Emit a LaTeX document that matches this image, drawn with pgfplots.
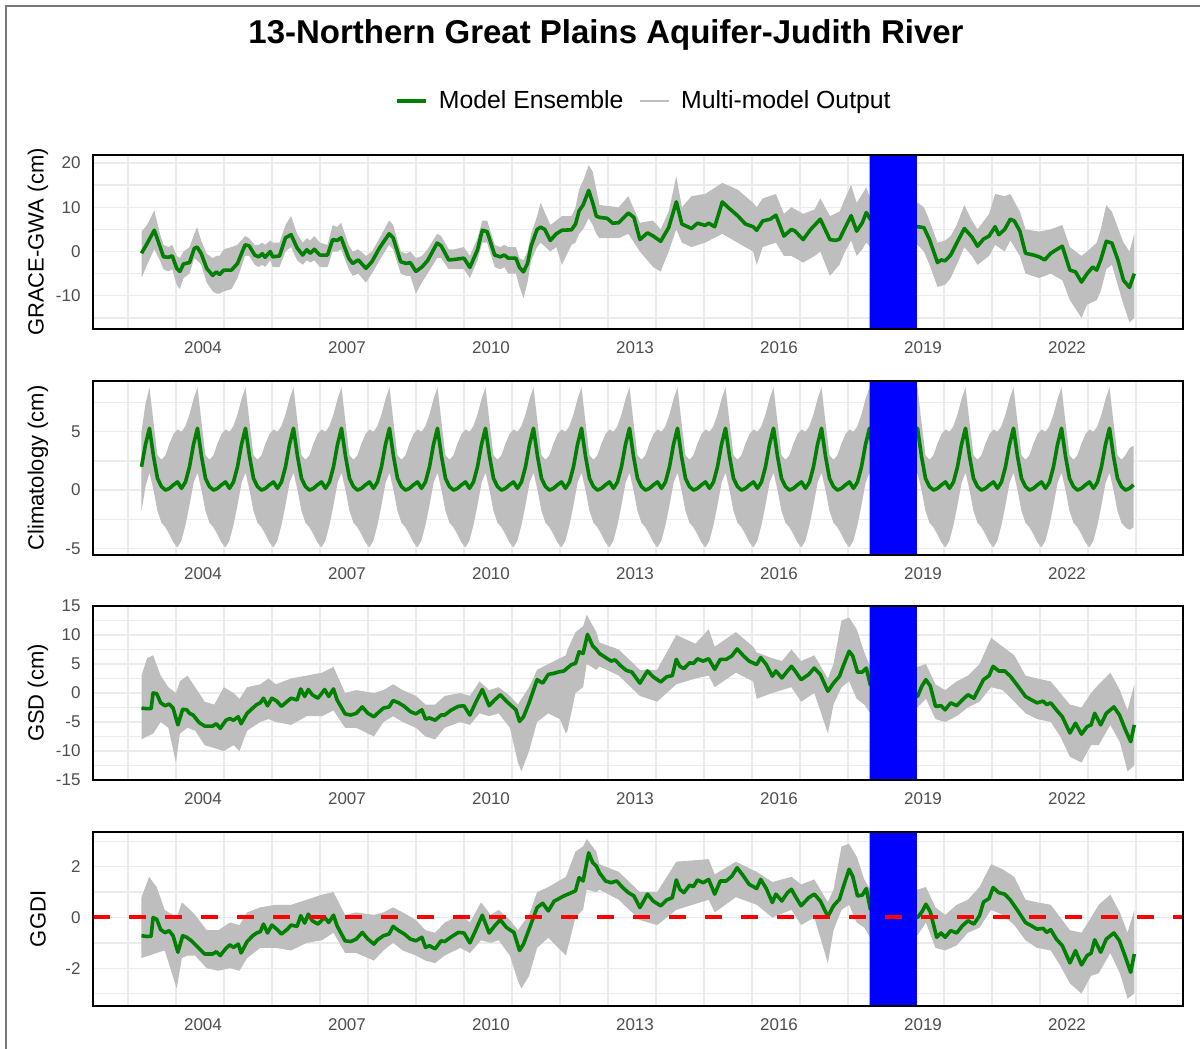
\documentclass[border=0pt]{standalone}
\usepackage{pgfplots}
\pgfplotsset{compat=1.18}
\usepackage{pgfplotstable}
\usepackage{fontspec}
\setmainfont{Liberation Sans}
\definecolor{ens}{RGB}{0,128,0}
\definecolor{mm}{RGB}{190,190,190}
\definecolor{gridc}{RGB}{235,235,235}
\definecolor{tickc}{RGB}{77,77,77}
\definecolor{frm}{RGB}{120,120,120}

% ---------- Panel 1: GRACE-GWA ----------
\pgfplotstableread{
M v
0 -0.4
1.4 1.8
3.2 4.8
4.6 1.2
5.5 -1.2
6.7 -1.3
7.7 -1.0
8.8 -3.8
9.6 -4.5
10.5 -2.8
12.0 -2.5
13.2 0.7
13.9 1.0
14.9 -0.4
16.3 -3.8
17.8 -5.4
18.7 -4.6
19.5 -5.2
20.6 -4.2
22.5 -4.2
24.0 -2.7
25.9 1.5
26.9 1.3
28.3 -0.8
29.3 -1.2
30.2 -0.5
30.9 -1.3
32.2 0.0
32.8 -1.2
34.5 -1.0
36.0 3.1
37.4 3.8
38.9 0.8
40.3 -0.8
41.3 0.4
42.2 -0.4
43.2 0.5
44.6 -0.8
46.5 -0.8
47.8 2.7
48.9 2.5
49.9 3.1
51.8 -1.5
52.8 -2.7
54.2 -1.9
56.1 -3.8
57.6 -2.3
59.5 0.8
61.9 4.0
62.9 3.1
64.8 -2.3
66.2 -2.7
67.2 -2.5
68.6 -4.5
70.1 -3.5
71.5 -2.1
73.9 1.9
74.9 1.3
76.8 -1.9
78.2 -1.8
80.6 -1.5
82.1 -3.6
84.0 0.4
85.2 4.8
86.4 4.5
88.3 -0.8
89.7 -1.2
90.7 -0.8
91.7 -1.5
93.6 -1.5
94.5 -3.6
95.5 -4.6
96.5 -2.7
97.4 1.2
98.9 5.0
99.8 5.5
100.8 5.0
102.2 2.5
103.7 4.0
105.1 4.8
107.5 4.9
108.5 6.2
109.4 9.2
110.4 10.5
111.8 13.8
112.8 11.0
113.7 8.0
114.5 7.7
116.4 7.5
117.8 6.4
119.3 6.5
121.7 8.7
123.1 7.7
124.6 2.7
126.5 4.2
127.9 3.5
129.8 2.3
131.8 5.4
133.7 11.2
135.1 6.2
137.5 5.2
139.0 6.4
140.9 5.9
141.8 6.4
143.3 5.6
145.2 11.2
146.6 10.0
149.0 8.1
151.0 6.2
152.9 5.6
153.8 4.8
155.3 6.9
157.2 7.3
158.6 8.2
160.6 3.5
162.5 5.0
163.4 4.6
165.4 2.7
167.3 5.0
169.7 7.3
172.1 2.7
173.5 2.5
174.5 2.8
175.9 5.4
177.4 8.1
178.8 4.6
180.2 6.5
181.2 8.8
182.2 7.3
194.0 5.6
195.6 5.4
197.0 2.7
199.0 -2.5
199.9 -1.9
200.9 -2.1
202.3 -0.8
203.8 1.9
205.7 5.2
207.6 3.3
209.0 1.2
210.5 2.8
211.9 3.5
213.4 5.6
214.3 3.8
215.8 5.0
217.2 7.3
218.2 6.9
219.6 4.6
221.0 -0.4
223.0 -0.8
224.4 -1.2
225.8 -1.9
227.3 -0.4
228.7 0.4
230.2 1.2
232.1 -4.2
233.5 -4.6
235.0 -6.9
236.4 -5.0
237.8 -3.5
238.8 -4.2
239.8 -1.9
241.2 2.3
242.6 1.9
244.1 -1.9
245.5 -6.5
247.0 -8.1
248.2 -5.0
}\gwaG

\pgfplotstableread{
M lo hi
0 -6.0 4.5
1.4 -3.0 6.0
3.2 0.5 9.3
4.6 -2.0 4.0
5.5 -4.0 1.5
6.7 -4.5 1.0
7.7 -4.0 1.5
8.8 -7.5 -1.0
9.6 -8.5 -1.5
10.5 -6.0 0.0
12.0 -5.0 1.0
13.2 -1.5 4.0
13.9 -2.0 5.5
14.9 -3.0 2.5
16.3 -7.0 -0.5
17.8 -9.0 -1.5
18.7 -9.5 -1.0
19.5 -9.5 -1.0
20.6 -9.0 0.5
22.5 -8.5 1.0
24.0 -6.0 1.5
25.9 -1.0 3.5
26.9 -1.0 3.0
28.3 -3.0 1.5
29.3 -3.5 1.5
30.2 -3.0 2.0
30.9 -3.5 1.5
32.2 -2.0 2.5
32.8 -3.5 2.0
34.5 -3.5 2.0
36.0 0.0 6.0
37.4 1.0 8.0
38.9 -2.0 4.0
40.3 -3.0 2.0
41.3 -2.0 3.0
42.2 -2.5 2.5
43.2 -2.0 3.5
44.6 -3.5 2.0
46.5 -3.5 1.5
47.8 0.0 6.0
48.9 0.0 5.5
49.9 0.5 6.5
51.8 -4.0 1.5
52.8 -5.5 0.0
54.2 -5.0 0.5
56.1 -7.0 -1.0
57.6 -5.0 0.0
59.5 -2.0 3.0
61.9 1.5 7.0
62.9 0.5 6.0
64.8 -5.0 0.0
66.2 -5.5 -0.5
67.2 -5.5 0.0
68.6 -9.5 -1.5
70.1 -7.0 -1.0
71.5 -5.0 0.5
73.9 -1.5 4.0
74.9 -1.5 3.5
76.8 -4.0 0.5
78.2 -4.0 0.5
80.6 -4.0 1.0
82.1 -6.0 -1.0
84.0 -2.0 3.0
85.2 2.0 7.0
86.4 2.0 7.0
88.3 -3.5 1.5
89.7 -4.0 1.0
90.7 -3.5 1.5
91.7 -5.0 1.0
93.6 -5.0 1.0
94.5 -8.0 -1.5
95.5 -10.5 -2.0
96.5 -7.0 0.0
97.4 -2.0 4.0
98.9 1.0 8.0
99.8 2.0 11.0
102.2 0.0 6.0
103.7 1.0 7.0
105.1 -3.0 8.0
107.5 1.5 8.0
108.5 2.0 10.0
109.4 4.0 14.0
110.4 5.0 16.0
111.8 7.5 19.5
112.8 6.0 18.0
113.7 4.0 14.0
114.5 3.0 10.5
119.3 3.0 10.0
121.7 4.0 12.5
124.6 0.0 6.5
127.9 -3.5 7.0
129.8 -4.5 5.0
131.8 0.0 9.0
133.7 5.0 17.0
135.1 2.0 10.0
137.5 1.0 12.5
140.9 2.0 13.0
145.2 4.0 15.5
149.0 2.0 14.0
152.9 0.0 11.0
153.8 -3.0 10.0
155.3 1.0 12.0
158.6 2.0 13.0
160.6 -1.0 8.5
162.5 -1.0 10.0
165.4 -2.5 8.5
168.3 -1.0 9.5
169.7 0.0 12.0
172.1 -5.5 8.0
174.5 -3.0 9.0
175.9 0.0 12.0
177.4 2.5 15.0
178.8 -1.0 11.0
180.2 0.5 13.0
181.2 2.0 14.5
182.2 1.0 12.0
194.0 1.5 11.0
195.6 0.0 10.0
197.0 -3.0 7.0
199.0 -8.0 2.0
200.9 -7.5 2.5
202.3 -6.0 3.5
203.8 -3.0 6.0
205.7 1.0 10.5
207.6 -1.0 7.0
209.0 -3.0 5.0
211.9 -1.0 8.5
213.4 1.5 13.0
215.8 0.0 12.5
217.2 2.5 13.0
219.6 -1.0 9.0
221.0 -5.0 5.0
224.4 -6.0 4.5
227.3 -5.0 5.0
230.2 -6.5 6.0
232.1 -11.0 1.0
235.0 -15.0 -1.0
236.4 -12.0 0.0
238.8 -11.0 2.0
239.8 -9.0 5.0
241.2 -4.0 10.5
242.6 -3.0 9.0
245.5 -12.0 2.0
247.0 -16.0 0.0
248.2 -15.0 4.0
}\gwaB

% ---------- Panel 2: Climatology (monthly, x = month index) ----------
\pgfplotstableread[row sep=\\]{
v\\
2.0\\ 3.9\\
5.3\\ 2.9\\ 1.0\\ 0.3\\ 0.0\\ 0.15\\ 0.45\\ 0.7\\ 0.15\\ 0.7\\ 2.0\\ 3.9\\
5.3\\ 2.9\\ 1.0\\ 0.3\\ 0.0\\ 0.15\\ 0.45\\ 0.7\\ 0.15\\ 0.7\\ 2.0\\ 3.9\\
5.3\\ 2.9\\ 1.0\\ 0.3\\ 0.0\\ 0.15\\ 0.45\\ 0.7\\ 0.15\\ 0.7\\ 2.0\\ 3.9\\
5.3\\ 2.9\\ 1.0\\ 0.3\\ 0.0\\ 0.15\\ 0.45\\ 0.7\\ 0.15\\ 0.7\\ 2.0\\ 3.9\\
5.3\\ 2.9\\ 1.0\\ 0.3\\ 0.0\\ 0.15\\ 0.45\\ 0.7\\ 0.15\\ 0.7\\ 2.0\\ 3.9\\
5.3\\ 2.9\\ 1.0\\ 0.3\\ 0.0\\ 0.15\\ 0.45\\ 0.7\\ 0.15\\ 0.7\\ 2.0\\ 3.9\\
5.3\\ 2.9\\ 1.0\\ 0.3\\ 0.0\\ 0.15\\ 0.45\\ 0.7\\ 0.15\\ 0.7\\ 2.0\\ 3.9\\
5.3\\ 2.9\\ 1.0\\ 0.3\\ 0.0\\ 0.15\\ 0.45\\ 0.7\\ 0.15\\ 0.7\\ 2.0\\ 3.9\\
5.3\\ 2.9\\ 1.0\\ 0.3\\ 0.0\\ 0.15\\ 0.45\\ 0.7\\ 0.15\\ 0.7\\ 2.0\\ 3.9\\
5.3\\ 2.9\\ 1.0\\ 0.3\\ 0.0\\ 0.15\\ 0.45\\ 0.7\\ 0.15\\ 0.7\\ 2.0\\ 3.9\\
5.3\\ 2.9\\ 1.0\\ 0.3\\ 0.0\\ 0.15\\ 0.45\\ 0.7\\ 0.15\\ 0.7\\ 2.0\\ 3.9\\
5.3\\ 2.9\\ 1.0\\ 0.3\\ 0.0\\ 0.15\\ 0.45\\ 0.7\\ 0.15\\ 0.7\\ 2.0\\ 3.9\\
5.3\\ 2.9\\ 1.0\\ 0.3\\ 0.0\\ 0.15\\ 0.45\\ 0.7\\ 0.15\\ 0.7\\ 2.0\\ 3.9\\
5.3\\ 2.9\\ 1.0\\ 0.3\\ 0.0\\ 0.15\\ 0.45\\ 0.7\\ 0.15\\ 0.7\\ 2.0\\ 3.9\\
5.3\\ 2.9\\ 1.0\\ 0.3\\ 0.0\\ 0.15\\ 0.45\\ 0.7\\ 0.15\\ 0.7\\ 2.0\\ 3.9\\
5.3\\ 2.9\\ 1.0\\ 0.3\\ 0.0\\ 0.15\\ 0.45\\ 0.7\\ 0.15\\ 0.7\\ 2.0\\ 3.9\\
5.3\\ 2.9\\ 1.0\\ 0.3\\ 0.0\\ 0.15\\ 0.45\\ 0.7\\ 0.15\\ 0.7\\ 2.0\\ 3.9\\
5.3\\ 2.9\\ 1.0\\ 0.3\\ 0.0\\ 0.15\\ 0.45\\ 0.7\\ 0.15\\ 0.7\\ 2.0\\ 3.9\\
5.3\\ 2.9\\ 1.0\\ 0.3\\ 0.0\\ 0.15\\ 0.45\\ 0.7\\ 0.15\\ 0.7\\ 2.0\\ 3.9\\
5.3\\ 2.9\\ 1.0\\ 0.3\\ 0.0\\ 0.15\\ 0.45\\ 0.7\\ 0.15\\ 0.7\\ 2.0\\ 3.9\\
5.3\\ 2.9\\ 1.0\\ 0.3\\ 0.0\\ 0.15\\ 0.45\\
}\climG

\pgfplotstableread[row sep=\\]{
hi lo\\
5.0 -1.8\\ 7.4 0.3\\
8.8 1.5\\ 5.8 0.0\\ 3.0 -1.8\\ 2.6 -2.8\\ 3.0 -3.2\\ 4.0 -3.8\\ 4.8 -4.5\\ 5.2 -4.9\\ 5.0 -4.3\\ 5.5 -3.0\\ 6.5 -1.3\\ 7.8 0.6\\
8.8 1.5\\ 5.8 0.0\\ 3.0 -1.8\\ 2.6 -2.8\\ 3.0 -3.2\\ 4.0 -3.8\\ 4.8 -4.5\\ 5.2 -4.9\\ 5.0 -4.3\\ 5.5 -3.0\\ 6.5 -1.3\\ 7.8 0.6\\
8.8 1.5\\ 5.8 0.0\\ 3.0 -1.8\\ 2.6 -2.8\\ 3.0 -3.2\\ 4.0 -3.8\\ 4.8 -4.5\\ 5.2 -4.9\\ 5.0 -4.3\\ 5.5 -3.0\\ 6.5 -1.3\\ 7.8 0.6\\
8.8 1.5\\ 5.8 0.0\\ 3.0 -1.8\\ 2.6 -2.8\\ 3.0 -3.2\\ 4.0 -3.8\\ 4.8 -4.5\\ 5.2 -4.9\\ 5.0 -4.3\\ 5.5 -3.0\\ 6.5 -1.3\\ 7.8 0.6\\
8.8 1.5\\ 5.8 0.0\\ 3.0 -1.8\\ 2.6 -2.8\\ 3.0 -3.2\\ 4.0 -3.8\\ 4.8 -4.5\\ 5.2 -4.9\\ 5.0 -4.3\\ 5.5 -3.0\\ 6.5 -1.3\\ 7.8 0.6\\
8.8 1.5\\ 5.8 0.0\\ 3.0 -1.8\\ 2.6 -2.8\\ 3.0 -3.2\\ 4.0 -3.8\\ 4.8 -4.5\\ 5.2 -4.9\\ 5.0 -4.3\\ 5.5 -3.0\\ 6.5 -1.3\\ 7.8 0.6\\
8.8 1.5\\ 5.8 0.0\\ 3.0 -1.8\\ 2.6 -2.8\\ 3.0 -3.2\\ 4.0 -3.8\\ 4.8 -4.5\\ 5.2 -4.9\\ 5.0 -4.3\\ 5.5 -3.0\\ 6.5 -1.3\\ 7.8 0.6\\
8.8 1.5\\ 5.8 0.0\\ 3.0 -1.8\\ 2.6 -2.8\\ 3.0 -3.2\\ 4.0 -3.8\\ 4.8 -4.5\\ 5.2 -4.9\\ 5.0 -4.3\\ 5.5 -3.0\\ 6.5 -1.3\\ 7.8 0.6\\
8.8 1.5\\ 5.8 0.0\\ 3.0 -1.8\\ 2.6 -2.8\\ 3.0 -3.2\\ 4.0 -3.8\\ 4.8 -4.5\\ 5.2 -4.9\\ 5.0 -4.3\\ 5.5 -3.0\\ 6.5 -1.3\\ 7.8 0.6\\
8.8 1.5\\ 5.8 0.0\\ 3.0 -1.8\\ 2.6 -2.8\\ 3.0 -3.2\\ 4.0 -3.8\\ 4.8 -4.5\\ 5.2 -4.9\\ 5.0 -4.3\\ 5.5 -3.0\\ 6.5 -1.3\\ 7.8 0.6\\
8.8 1.5\\ 5.8 0.0\\ 3.0 -1.8\\ 2.6 -2.8\\ 3.0 -3.2\\ 4.0 -3.8\\ 4.8 -4.5\\ 5.2 -4.9\\ 5.0 -4.3\\ 5.5 -3.0\\ 6.5 -1.3\\ 7.8 0.6\\
8.8 1.5\\ 5.8 0.0\\ 3.0 -1.8\\ 2.6 -2.8\\ 3.0 -3.2\\ 4.0 -3.8\\ 4.8 -4.5\\ 5.2 -4.9\\ 5.0 -4.3\\ 5.5 -3.0\\ 6.5 -1.3\\ 7.8 0.6\\
8.8 1.5\\ 5.8 0.0\\ 3.0 -1.8\\ 2.6 -2.8\\ 3.0 -3.2\\ 4.0 -3.8\\ 4.8 -4.5\\ 5.2 -4.9\\ 5.0 -4.3\\ 5.5 -3.0\\ 6.5 -1.3\\ 7.8 0.6\\
8.8 1.5\\ 5.8 0.0\\ 3.0 -1.8\\ 2.6 -2.8\\ 3.0 -3.2\\ 4.0 -3.8\\ 4.8 -4.5\\ 5.2 -4.9\\ 5.0 -4.3\\ 5.5 -3.0\\ 6.5 -1.3\\ 7.8 0.6\\
8.8 1.5\\ 5.8 0.0\\ 3.0 -1.8\\ 2.6 -2.8\\ 3.0 -3.2\\ 4.0 -3.8\\ 4.8 -4.5\\ 5.2 -4.9\\ 5.0 -4.3\\ 5.5 -3.0\\ 6.5 -1.3\\ 7.8 0.6\\
8.8 1.5\\ 5.8 0.0\\ 3.0 -1.8\\ 2.6 -2.8\\ 3.0 -3.2\\ 4.0 -3.8\\ 4.8 -4.5\\ 5.2 -4.9\\ 5.0 -4.3\\ 5.5 -3.0\\ 6.5 -1.3\\ 7.8 0.6\\
8.8 1.5\\ 5.8 0.0\\ 3.0 -1.8\\ 2.6 -2.8\\ 3.0 -3.2\\ 4.0 -3.8\\ 4.8 -4.5\\ 5.2 -4.9\\ 5.0 -4.3\\ 5.5 -3.0\\ 6.5 -1.3\\ 7.8 0.6\\
8.8 1.5\\ 5.8 0.0\\ 3.0 -1.8\\ 2.6 -2.8\\ 3.0 -3.2\\ 4.0 -3.8\\ 4.8 -4.5\\ 5.2 -4.9\\ 5.0 -4.3\\ 5.5 -3.0\\ 6.5 -1.3\\ 7.8 0.6\\
8.8 1.5\\ 5.8 0.0\\ 3.0 -1.8\\ 2.6 -2.8\\ 3.0 -3.2\\ 4.0 -3.8\\ 4.8 -4.5\\ 5.2 -4.9\\ 5.0 -4.3\\ 5.5 -3.0\\ 6.5 -1.3\\ 7.8 0.6\\
8.8 1.5\\ 5.8 0.0\\ 3.0 -1.8\\ 2.6 -2.8\\ 3.0 -3.2\\ 4.0 -3.8\\ 4.8 -4.5\\ 5.2 -4.9\\ 5.0 -4.3\\ 5.5 -3.0\\ 6.5 -1.3\\ 7.8 0.6\\
8.8 1.5\\ 5.8 0.0\\ 3.0 -1.8\\ 2.6 -2.8\\ 3.0 -3.2\\ 3.6 -3.4\\ 3.8 -3.2\\
}\climB

% ---------- Panel 3: GSD ----------
\pgfplotstableread{
M v
0 -2.6
1.4 -2.7
2.4 -2.7
2.9 0.0
3.8 -0.1
4.8 -1.7
5.9 -2.2
6.9 -1.9
7.9 -2.6
9.1 -5.5
10.3 -2.8
11.3 -2.9
12.0 -3.5
12.9 -3.8
14.4 -5.1
15.8 -5.7
17.8 -5.7
18.7 -5.3
19.7 -6.1
21.1 -4.7
22.1 -4.4
23.0 -4.7
24.2 -4.1
24.9 -5.3
26.4 -3.5
27.8 -2.6
28.8 -2.0
29.7 -1.7
30.5 -0.9
31.5 -2.2
32.6 -0.9
33.8 -1.4
35.0 -2.3
36.5 -1.4
37.4 -0.9
38.9 -1.2
39.8 0.7
40.8 -0.6
41.7 0.6
42.7 -0.3
44.1 -0.9
45.8 0.6
46.8 -0.6
48.0 0.7
48.9 -1.2
50.9 -3.6
52.3 -3.8
53.7 -3.5
55.2 -2.4
56.6 -3.5
58.1 -4.1
59.0 -3.5
60.5 -2.6
61.9 -2.4
62.9 -1.3
64.3 -1.7
65.7 -2.3
67.2 -3.2
68.6 -3.6
70.1 -2.9
71.0 -4.5
72.0 -4.3
73.4 -4.7
74.9 -3.8
75.8 -3.8
77.3 -3.0
79.2 -2.3
80.6 -2.2
82.1 -3.8
83.5 -1.7
85.2 0.6
86.9 -2.2
88.3 -1.2
89.7 -0.3
91.2 -1.4
93.6 -2.9
94.5 -4.9
95.5 -4.1
96.9 -1.7
98.9 2.3
100.3 1.7
101.7 3.2
103.2 3.4
104.1 3.6
105.6 3.8
107.5 4.9
108.5 5.1
109.4 7.1
110.4 6.8
111.5 10.1
112.8 8.1
113.7 7.5
114.5 6.8
117.4 5.5
118.4 5.7
119.8 4.7
121.2 3.9
122.6 3.6
124.6 1.7
126.5 3.8
127.9 2.8
129.8 1.9
131.3 2.8
132.7 3.0
133.7 5.8
134.6 4.6
135.6 4.2
137.0 5.2
138.0 5.1
139.0 5.9
140.4 5.5
141.8 5.9
143.3 4.1
144.7 5.8
146.2 5.8
147.6 6.4
148.9 7.6
150.5 6.4
151.9 5.5
153.8 4.9
154.8 6.1
156.2 4.9
157.7 2.9
158.6 3.8
160.1 2.6
161.5 3.8
162.5 4.6
163.4 3.8
164.9 2.3
166.8 3.2
168.2 4.3
169.7 3.2
171.6 0.3
173.0 1.7
174.5 2.9
175.4 4.6
176.9 7.2
177.8 6.4
179.0 3.6
180.2 3.6
181.2 4.3
182.2 1.4
194.0 -0.6
195.1 1.2
196.1 2.3
197.2 1.2
198.5 -2.3
199.9 -2.2
200.9 -2.9
202.3 -1.7
203.8 -2.2
205.2 -1.2
206.6 -0.3
208.1 -0.9
209.0 0.3
210.5 2.3
211.9 3.0
212.9 4.6
214.3 3.8
215.8 3.8
217.2 2.9
219.1 1.2
221.0 -0.6
222.5 -1.2
223.9 -1.7
225.4 -1.4
226.3 -2.0
227.3 -1.7
228.7 -2.9
230.2 -4.1
232.1 -6.9
233.5 -5.2
235.0 -7.1
236.4 -5.8
237.4 -5.5
238.3 -3.5
239.8 -5.5
241.2 -3.5
243.1 -2.4
244.5 -3.8
246.0 -6.4
247.3 -8.4
248.2 -5.5
}\gsdG

\pgfplotstableread{
M lo hi
0 -8.0 3.0
1.4 -7.5 6.0
2.9 -7.0 6.5
4.8 -5.0 3.0
6.7 -6.0 1.0
8.6 -12.0 0.0
9.6 -7.0 2.0
11.5 -6.0 3.0
13.4 -6.5 1.0
15.8 -9.0 -1.5
18.2 -9.5 -2.0
20.6 -10.0 1.0
23.0 -9.0 0.0
24.5 -10.0 -1.0
26.4 -6.5 1.0
29.7 -5.0 1.5
31.7 -4.5 2.5
33.6 -5.0 1.5
37.4 -5.5 2.5
41.3 -4.0 3.0
45.1 -4.0 3.5
48.0 -3.0 4.5
50.9 -6.0 0.0
53.7 -6.0 0.5
58.1 -7.5 0.0
60.5 -5.0 0.5
62.9 -4.0 1.5
65.3 -5.0 0.5
68.6 -6.0 -0.5
71.0 -7.5 -2.0
73.4 -8.0 -2.0
75.8 -6.0 -0.5
79.7 -5.0 0.0
82.1 -5.5 -0.5
84.5 -3.5 2.0
86.9 -4.0 0.5
89.3 -3.5 1.0
92.1 -6.0 -0.5
94.1 -12.0 -2.0
95.0 -13.5 -1.0
96.9 -10.0 1.0
98.9 -5.0 4.0
101.7 -3.5 5.0
104.6 -4.5 6.0
106.1 -7.0 6.5
106.5 -6.5 7.5
108.5 0.0 10.5
110.4 1.0 11.5
111.3 5.0 13.5
113.7 4.0 10.5
114.5 4.6 8.7
119.3 3.0 7.5
124.6 -0.5 4.0
128.9 -1.5 4.0
133.7 1.5 10.0
138.5 2.5 8.5
141.8 3.0 11.0
143.3 1.0 8.0
148.6 3.5 10.5
152.9 2.0 8.0
153.8 -1.0 7.0
157.7 0.0 6.0
160.1 0.5 5.5
162.5 1.0 7.5
164.9 -1.5 5.5
168.2 0.0 6.5
171.6 -7.0 2.5
173.0 -2.0 5.0
175.0 1.0 12.5
176.9 2.0 13.0
178.8 -1.0 11.0
180.7 -2.0 7.0
182.2 -3.5 4.5
194.0 -2.5 4.5
196.1 -1.0 5.0
198.5 -4.5 1.5
200.9 -5.0 0.5
203.8 -4.0 2.0
206.6 -2.5 3.0
209.5 -1.5 5.0
212.4 1.0 9.5
215.3 0.5 8.0
218.2 -1.5 6.5
221.0 -3.5 3.0
223.9 -4.5 2.5
227.3 -5.0 2.0
229.7 -7.5 0.0
232.1 -11.0 -2.0
235.0 -12.0 -2.5
237.4 -9.0 0.0
239.3 -9.0 1.5
242.2 -5.5 3.5
244.6 -8.5 0.5
246.5 -13.5 -3.0
248.2 -12.5 1.5
}\gsdB

% ---------- Panel 4: GGDI ----------
\pgfplotstableread{
M v
0 -0.72
1.4 -0.75
2.4 -0.74
2.9 0.0
3.8 -0.07
4.8 -0.48
5.9 -0.6
6.9 -0.52
7.9 -0.72
9.1 -1.37
10.3 -0.72
11.3 -0.78
12.5 -0.92
14.4 -1.22
15.8 -1.44
17.8 -1.44
18.7 -1.35
19.7 -1.5
21.1 -1.22
22.1 -1.08
23.0 -1.18
24.2 -1.05
24.9 -1.4
26.4 -0.95
27.8 -0.72
28.8 -0.61
29.7 -0.56
30.5 -0.26
31.5 -0.61
32.6 -0.3
33.8 -0.46
35.0 -0.65
36.5 -0.46
37.4 -0.3
38.9 -0.35
39.8 0.07
40.8 -0.22
41.7 0.13
42.7 -0.13
44.1 -0.26
45.8 0.0
46.8 -0.2
48.0 0.09
48.9 -0.33
50.9 -0.92
52.3 -0.95
53.7 -0.85
55.2 -0.59
56.6 -0.85
58.1 -1.05
59.0 -0.88
60.5 -0.72
61.9 -0.65
62.9 -0.35
64.3 -0.52
65.7 -0.65
67.2 -0.85
68.6 -0.92
70.1 -0.78
71.0 -1.18
72.0 -1.11
73.4 -1.24
74.9 -0.92
75.8 -0.95
77.3 -0.78
79.2 -0.59
80.6 -0.61
82.1 -1.0
83.5 -0.52
85.2 0.09
86.9 -0.61
88.3 -0.33
89.7 -0.09
91.2 -0.39
93.1 -0.59
94.5 -1.3
95.5 -1.05
96.9 -0.46
98.9 0.39
100.3 0.56
101.7 0.26
103.2 0.65
104.1 0.72
105.6 0.85
107.5 0.98
108.5 1.05
109.4 1.57
110.4 1.44
111.8 2.55
112.8 2.16
113.7 2.03
114.5 1.76
116.0 1.44
117.4 1.37
118.8 1.44
120.3 1.18
121.7 0.98
123.1 0.85
124.6 0.39
126.5 0.92
127.9 0.65
129.8 0.46
131.3 0.69
132.7 0.78
133.7 1.48
134.6 1.11
135.6 0.98
137.0 1.27
138.0 1.22
139.0 1.48
140.4 1.37
141.8 1.5
143.3 0.92
144.7 1.44
146.2 1.44
147.6 1.63
148.9 1.96
150.5 1.63
151.9 1.31
153.8 1.14
154.8 1.5
156.2 1.14
157.7 0.59
158.6 0.92
160.1 0.65
161.5 0.98
162.5 1.11
163.4 0.85
164.9 0.46
166.8 0.78
168.2 0.92
169.7 0.65
171.6 0.04
173.0 0.46
174.5 0.72
175.4 1.18
176.9 1.9
177.8 1.63
179.0 0.85
180.2 0.88
181.2 1.14
182.2 0.33
194.0 0.0
195.1 0.22
196.1 0.52
197.2 0.22
198.8 -0.78
199.9 -0.61
200.9 -0.78
202.3 -0.52
203.8 -0.61
205.2 -0.33
206.6 -0.13
208.1 -0.26
209.5 0.07
210.5 0.61
211.9 0.75
212.9 1.18
214.3 0.98
215.8 0.92
217.2 0.69
219.1 0.26
221.0 -0.2
222.5 -0.33
223.9 -0.46
225.4 -0.43
226.3 -0.59
227.3 -0.48
228.7 -0.85
230.2 -1.11
232.1 -1.79
233.5 -1.31
235.0 -1.87
236.4 -1.5
237.4 -1.41
238.3 -0.88
239.8 -1.37
241.2 -0.85
243.1 -0.61
244.5 -0.92
246.0 -1.57
247.3 -2.16
248.2 -1.44
}\ggdiG

\pgfplotstableread{
M lo hi
0 -1.6 0.8
1.9 -1.5 1.6
3.8 -1.4 1.2
5.8 -1.3 0.3
8.8 -2.8 0.0
10.1 -1.6 0.6
11.5 -1.5 0.4
13.4 -1.5 0.1
16.3 -2.0 -0.5
19.2 -2.1 -0.5
22.1 -2.0 -0.2
24.5 -2.1 -0.3
26.4 -1.6 0.2
29.7 -1.2 0.4
33.6 -1.2 0.5
37.4 -1.3 0.5
41.3 -1.0 0.7
45.1 -0.9 0.9
48.0 -0.6 1.0
50.9 -1.4 0.1
53.7 -1.4 0.2
58.1 -1.7 0.1
60.5 -1.3 0.2
62.9 -1.0 0.4
65.3 -1.3 0.2
68.6 -1.5 -0.1
71.0 -1.7 -0.5
73.4 -1.8 -0.6
75.8 -1.5 -0.2
79.7 -1.2 0.1
82.1 -1.4 -0.2
84.9 -0.9 0.6
87.3 -1.0 0.1
89.3 -0.9 0.3
92.1 -1.5 -0.1
94.1 -2.5 -0.5
95.0 -2.8 -0.3
96.9 -2.3 0.1
98.9 -1.2 1.0
101.7 -0.8 1.2
106.1 -1.5 1.6
108.5 0.0 2.6
110.4 0.3 2.8
111.3 1.1 3.1
113.7 1.0 2.6
114.5 1.1 2.1
119.3 0.7 1.8
124.6 -0.1 1.0
128.9 -0.3 1.0
133.7 0.3 2.2
141.8 0.7 2.3
143.3 0.2 1.7
148.6 0.8 2.2
153.8 0.5 1.8
157.7 0.0 1.4
162.5 0.3 1.6
164.9 -0.3 1.3
168.2 0.0 1.5
171.6 -1.8 0.6
173.0 -0.5 1.1
175.0 0.3 2.8
176.9 0.5 2.9
178.8 -0.2 2.4
180.7 -0.4 1.5
182.2 -0.8 1.1
194.0 -0.7 1.1
196.1 -0.2 1.2
198.5 -1.2 0.4
200.9 -1.3 0.1
203.8 -1.1 0.5
206.6 -0.6 0.7
209.5 -0.4 1.2
212.4 0.3 2.1
215.3 0.1 1.9
218.2 -0.3 1.6
221.0 -0.9 0.7
223.9 -1.2 0.6
227.3 -1.3 0.5
229.7 -1.9 0.0
232.1 -2.6 -0.5
235.0 -3.0 -0.6
237.4 -2.3 0.0
239.3 -2.2 0.5
242.2 -1.4 0.9
244.6 -2.2 0.2
246.5 -3.2 -0.6
248.2 -3.0 0.3
}\ggdiB

\pgfplotsset{
  panel/.style={
    scale only axis, width=545pt, height=87pt, anchor=south west,
    xmin=-12.125, xmax=260.375,
    xtick={15.375,51.375,87.375,123.375,159.375,195.375,231.375},
    xticklabels={2004,2007,2010,2013,2016,2019,2022},
    minor xtick={-3.375,8.625,20.625,32.625,44.625,56.625,68.625,80.625,92.625,104.625,116.625,128.625,140.625,152.625,164.625,176.625,188.625,200.625,212.625,224.625,236.625,248.625},
    xmajorgrids=false, xminorgrids=true, ymajorgrids=true, yminorgrids=true,
    major grid style={gridc, line width=0.7pt},
    minor grid style={gridc, line width=0.7pt},
    major tick length=0pt, minor tick length=0pt,
    axis line style={black, line width=1pt},
    tick label style={text=tickc, font=\fontsize{8.5}{10}\selectfont},
    /pgf/number format/assume math mode=true,
    xticklabel style={yshift=-3pt},
    yticklabel style={xshift=-2.7pt},
    every axis y label/.style={at={(axis description cs:-0.0505,0.5)}, rotate=90, anchor=center, font=\fontsize{11}{13}\selectfont},
  },
  ensline/.style={ens, line width=1.8pt, line join=round},
  bandlo/.style={draw=none, stack plots=y, forget plot},
  bandhi/.style={fill=mm, draw=none, stack plots=y, forget plot},
}

\begin{document}
\begin{tikzpicture}
\useasboundingbox (0pt,0pt) rectangle (600pt,524.5pt);
\draw[frm, line width=1pt] (3pt,0pt) -- (3pt,521.6pt) -- (600pt,521.6pt);
\node[font=\bfseries\fontsize{16.5}{19}\selectfont] at (303pt,507pt) {13-Northern Great Plains Aquifer-Judith River};

% Panel 1
\begin{axis}[panel, name=p1, at={(46.5pt,360pt)}, ymin=-17.5, ymax=21.8,
  ytick={-10,0,10,20}, minor ytick={-15,-5,5,15}, ylabel={GRACE-GWA (cm)},
  legend columns=-1,
  legend style={at={(axis description cs:0.5064,1.31)}, anchor=center, draw=none, fill=none,
    font=\fontsize{12.4}{14}\selectfont,
    /tikz/every odd column/.append style={column sep=3.5pt},
    /tikz/every even column/.append style={column sep=6pt}},
  legend image code/.code={\draw[#1] (0pt,0pt) -- (14.5pt,0pt);}]
\addplot[bandlo] table[x=M,y=lo]{\gwaB};
\addplot[bandhi] table[x=M,y expr=\thisrow{hi}-\thisrow{lo}]{\gwaB} \closedcycle;
\addplot[ensline] table[x=M,y=v]{\gwaG};
\addlegendentry{Model Ensemble}
\addlegendimage{mm, line width=0.8pt}
\addlegendentry{Multi-model Output}
\addplot[fill=blue, draw=none, forget plot] coordinates {(182.06,-17.5) (193.82,-17.5) (193.82,21.8) (182.06,21.8) (182.06,-17.5)};
\end{axis}
\draw[line width=1pt] (p1.south west) rectangle (p1.north east);

% Panel 2
\begin{axis}[panel, name=p2, at={(46.5pt,247pt)}, ymin=-5.56, ymax=9.35,
  ytick={-5,0,5}, minor ytick={-2.5,2.5,7.5}, ylabel={Climatology (cm)}]
\addplot[bandlo] table[x expr=\coordindex,y=lo]{\climB};
\addplot[bandhi] table[x expr=\coordindex,y expr=\thisrow{hi}-\thisrow{lo}]{\climB} \closedcycle;
\addplot[ensline] table[x expr=\coordindex,y=v]{\climG};
\addplot[fill=blue, draw=none] coordinates {(182.06,-5.56) (193.82,-5.56) (193.82,9.35) (182.06,9.35) (182.06,-5.56)};
\end{axis}
\draw[line width=1pt] (p2.south west) rectangle (p2.north east);

% Panel 3
\begin{axis}[panel, name=p3, at={(46.5pt,134.5pt)}, ymin=-15, ymax=15,
  ytick={-15,-10,-5,0,5,10,15}, minor ytick={-12.5,-7.5,-2.5,2.5,7.5,12.5}, ylabel={GSD (cm)}]
\addplot[bandlo] table[x=M,y=lo]{\gsdB};
\addplot[bandhi] table[x=M,y expr=\thisrow{hi}-\thisrow{lo}]{\gsdB} \closedcycle;
\addplot[ensline] table[x=M,y=v]{\gsdG};
\addplot[fill=blue, draw=none] coordinates {(182.06,-15) (193.82,-15) (193.82,15) (182.06,15) (182.06,-15)};
\end{axis}
\draw[line width=1pt] (p3.south west) rectangle (p3.north east);

% Panel 4
\begin{axis}[panel, name=p4, at={(46.5pt,21.5pt)}, ymin=-3.49, ymax=3.37,
  ytick={-2,0,2}, minor ytick={-3,-1,1,3}, ylabel={GGDI}]
\addplot[bandlo] table[x=M,y=lo]{\ggdiB};
\addplot[bandhi] table[x=M,y expr=\thisrow{hi}-\thisrow{lo}]{\ggdiB} \closedcycle;
\addplot[ensline] table[x=M,y=v]{\ggdiG};
\addplot[fill=blue, draw=none] coordinates {(182.06,-3.49) (193.82,-3.49) (193.82,3.37) (182.06,3.37) (182.06,-3.49)};
\addplot[red, line width=2pt, dash pattern=on 8.5pt off 9.5pt] coordinates {(-12.125,0) (260.375,0)};
\end{axis}
\draw[line width=1pt] (p4.south west) rectangle (p4.north east);
\end{tikzpicture}
\end{document}
